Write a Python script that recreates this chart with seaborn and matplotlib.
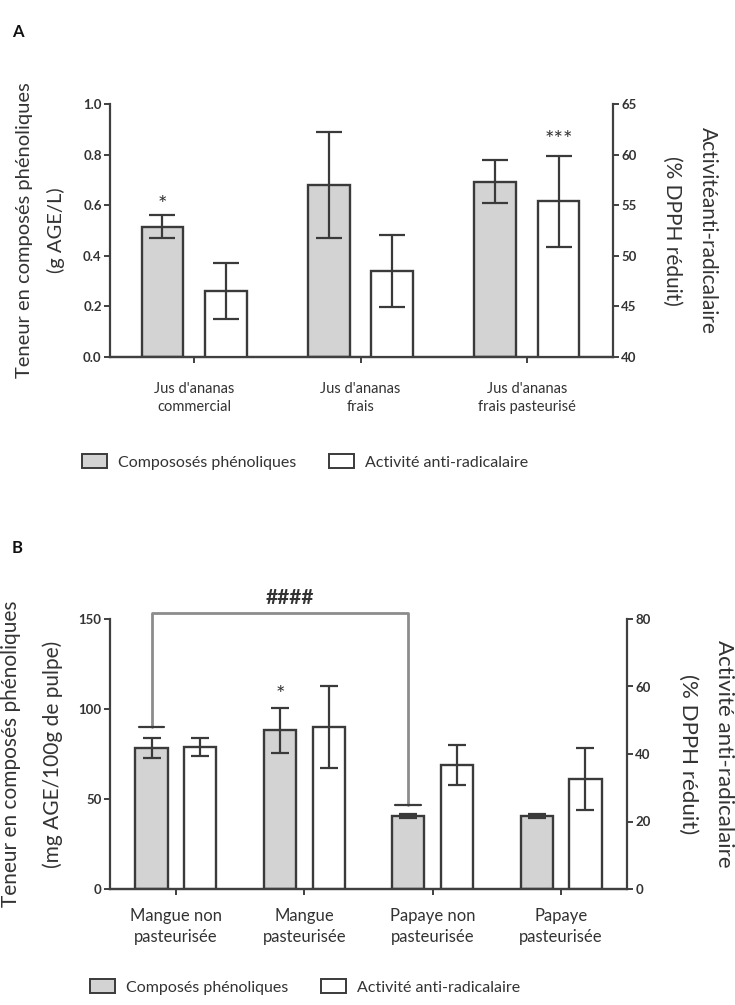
import numpy as np
import pandas as pd
import matplotlib
matplotlib.use("Agg")
import matplotlib.pyplot as plt
import seaborn as sns
from matplotlib.patches import Patch

# ---------------- data ----------------
cats_a = ["Jus d'ananas\ncommercial", "Jus d'ananas\nfrais", "Jus d'ananas\nfrais pasteurisé"]
phen_a = [0.515, 0.68, 0.692]
phen_a_err = [0.045, 0.21, 0.085]
act_a = [46.5, 48.5, 55.4]
act_a_err = [2.75, 3.6, 4.5]
series_a = ["Compososés phénoliques", "Activité anti-radicalaire"]

cats_b = ["Mangue non\npasteurisée", "Mangue\npasteurisée", "Papaye non\npasteurisée", "Papaye\npasteurisée"]
phen_b = [78.5, 88.3, 40.5, 40.5]
phen_b_err = [5.5, 12.5, 1.2, 1.0]
act_b = [42.0, 48.0, 36.7, 32.5]
act_b_err = [2.7, 12.2, 5.9, 9.2]
series_b = ["Composés phénoliques", "Activité anti-radicalaire"]

yticks_a_left = [0.0, 0.2, 0.4, 0.6, 0.8, 1.0]
yticks_a_right = [40, 45, 50, 55, 60, 65]
yticks_b_left = [0, 50, 100, 150]
yticks_b_right = [0, 20, 40, 60, 80]

# ---------------- style ----------------
sns.set_theme(style="ticks")
plt.rcParams["font.family"] = ["Lato", "DejaVu Sans"]

GRAY = "#d3d3d3"
EDGE = "#3a3a3a"
SPINE = "#404040"
TXT = "#333333"

fig = plt.figure(figsize=(7.35, 10.05), dpi=100)
axA = fig.add_axes([110/735, 1-357/1005, 503/735, 253/1005])
axB = fig.add_axes([110/735, 1-889/1005, 517/735, 270/1005])


def draw(ax, cats, phen, phen_err, act, act_err, series, lims_l, lims_r,
         ticks_l, ticks_r, fmt, capsize, xlim, xfont, pad):
    n = len(cats)
    df = pd.DataFrame({
        "cat": cats * 2,
        "serie": [series[0]] * n + [series[1]] * n,
        "left": list(phen) + [np.nan] * n,
        "right": [np.nan] * n + list(act),
    })
    ax2 = ax.twinx()
    common = dict(data=df, x="cat", hue="serie", hue_order=series,
                  palette=[GRAY, "white"], width=0.76, gap=0.34,
                  edgecolor=EDGE, linewidth=1.7, errorbar=None, legend=False)
    sns.barplot(y="left", ax=ax, **common)
    sns.barplot(y="right", ax=ax2, **common)
    for a, vals, errs in ((ax, phen, phen_err), (ax2, act, act_err)):
        pts = sorted([p for p in a.patches if np.isfinite(p.get_height()) and p.get_height() > 0],
                     key=lambda p: p.get_x())
        xs = [p.get_x() + p.get_width() / 2 for p in pts]
        a.errorbar(xs, vals, yerr=errs, fmt="none", ecolor=EDGE, elinewidth=1.6,
                   capsize=capsize, capthick=1.6, zorder=5)
    ax.set_ylim(*lims_l)
    ax2.set_ylim(*lims_r)
    ax.set_xlim(*xlim)
    ax.set_yticks(ticks_l)
    ax2.set_yticks(ticks_r)
    ax.set_yticklabels([fmt.format(t) for t in ticks_l], fontweight="bold", fontsize=9.5, color=TXT)
    ax2.set_yticklabels([str(t) for t in ticks_r], fontweight="bold", fontsize=9.5, color=TXT)
    ax.set_xticks(range(n))
    ax.set_xticklabels(cats, fontsize=xfont, color=TXT, linespacing=1.35)
    ax.set_xlabel("")
    ax2.set_xlabel("")
    for a in (ax, ax2):
        a.spines["top"].set_visible(False)
        for s in a.spines.values():
            s.set_color(SPINE)
            s.set_linewidth(1.6)
        a.tick_params(length=4, width=1.4, color=SPINE, pad=2)
    ax.spines["right"].set_visible(False)
    ax2.spines["left"].set_visible(False)
    ax.tick_params(axis="x", pad=pad)
    return ax2


ax2A = draw(axA, cats_a, phen_a, phen_a_err, act_a, act_a_err, series_a,
            (0, 1.0), (40, 65), yticks_a_left, yticks_a_right, "{:.1f}", 9.5,
            (-0.505, 2.517), 10.5, 14)
ax2B = draw(axB, cats_b, phen_b, phen_b_err, act_b, act_b_err, series_b,
            (0, 150), (0, 80), yticks_b_left, yticks_b_right, "{:d}", 6.5,
            (-0.514, 3.514), 12, 10)

# axis labels
axA.set_ylabel("Teneur en composés phénoliques\n(g AGE/L)", fontsize=14.5, color=TXT, linespacing=1.95)
axA.yaxis.set_label_coords(-0.089, 0.5)
ax2A.set_ylabel("Activitéanti-radicalaire\n(% DPPH réduit)", fontsize=15, color=TXT,
                rotation=270, va="bottom", linespacing=2.0)
ax2A.yaxis.set_label_coords(1.097, 0.5)
axB.set_ylabel("Teneur en composés phénoliques\n(mg AGE/100g de pulpe)", fontsize=15, color=TXT, linespacing=2.3)
axB.yaxis.set_label_coords(-0.091, 0.5)
ax2B.set_ylabel("Activité anti-radicalaire\n(% DPPH réduit)", fontsize=16, color=TXT,
                rotation=270, va="bottom", linespacing=2.0)
ax2B.yaxis.set_label_coords(1.099, 0.5)

# significance marks
off = 0.19
axA.text(0 - off, 0.6, "*", ha="center", va="center", fontsize=16, color=TXT)
ax2A.text(2 + off, 61.4, "***", ha="center", va="center", fontsize=16, color=TXT)
axB.text(1 - off, 108, "*", ha="center", va="center", fontsize=16, color=TXT)

# bracket ####
bc = "#8c8c8c"
xl, xr = 0 - off, 2 - off
axB.plot([xl, xl, xr, xr], [90, 153.5, 153.5, 46.7], color=bc, lw=2, clip_on=False, zorder=6)
axB.plot([xl - 0.1, xl + 0.1], [90, 90], color=EDGE, lw=1.6, clip_on=False, zorder=6)
axB.plot([xr - 0.1, xr + 0.1], [46.7, 46.7], color=EDGE, lw=1.6, clip_on=False, zorder=6)
axB.text(0.89, 161.5, "####", ha="center", va="center", fontsize=15, fontweight="bold", color=TXT)

# panel letters
fig.text(12/735, 1-32/1005, "A", fontsize=12, fontweight="bold", va="center", color="#111")
fig.text(12/735, 1-548/1005, "B", fontsize=12, fontweight="bold", va="center", color="#111")

# legends
for series, ypos in ((series_a, 1-462/1005), (series_b, 1-987/1005)):
    handles = [Patch(facecolor=GRAY, edgecolor=EDGE, linewidth=1.4),
               Patch(facecolor="white", edgecolor=EDGE, linewidth=1.4)]
    fig.legend(handles, series, loc="center", bbox_to_anchor=(0.415, ypos), ncol=2,
               frameon=False, fontsize=11.5, handlelength=1.6, handleheight=0.9,
               columnspacing=2.0, handletextpad=0.7, labelcolor=TXT)

fig.savefig("out.png", dpi=100)
